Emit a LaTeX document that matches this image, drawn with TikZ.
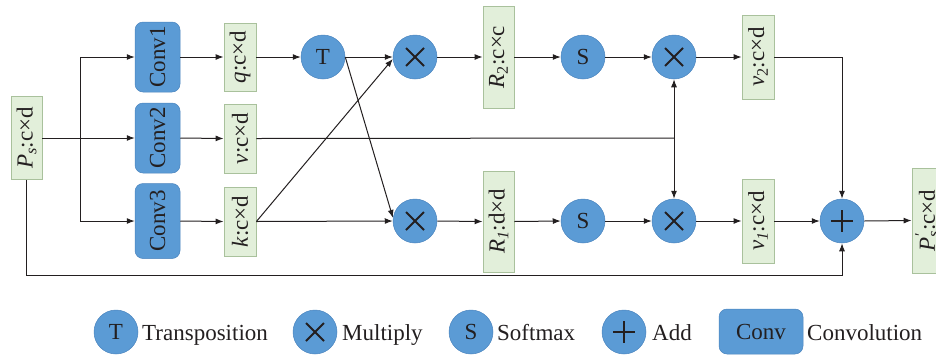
\documentclass[tikz,border=0pt]{standalone}
\usepackage{fontspec}
\setmainfont{Liberation Serif}
\usetikzlibrary{arrows.meta,calc}
\definecolor{cblue}{HTML}{5B9BD5}
\definecolor{cbluedk}{HTML}{4A84BE}
\definecolor{gfill}{HTML}{E2EFDA}
\definecolor{gline}{HTML}{A9C19C}
\definecolor{ink}{HTML}{231F20}
\begin{document}
\begin{tikzpicture}[x=1pt,y=-1pt,
 every node/.style={font=\fontsize{23}{26}\selectfont, text=ink},
 op/.style={circle, fill=cblue, draw=cbluedk, line width=0.5pt, minimum size=44pt, inner sep=0pt},
 gbox/.style={rectangle, fill=gfill, draw=gline, line width=0.8pt, inner sep=0pt},
 convbox/.style={rectangle, rounded corners=8pt, fill=cblue, draw=cbluedk, line width=0.5pt, minimum width=45pt, minimum height=70pt, inner sep=0pt},
 rlabel/.style={rotate=90, inner sep=0pt},
 legtext/.style={anchor=base west, inner sep=0pt},
 wire/.style={draw=ink, line width=1pt},
 arr/.style={wire, -{Latex[length=8pt,width=6pt]}},
 sym/.style={draw=ink, line width=1.8pt}
]
\useasboundingbox (0,0) rectangle (936,357);

% input
\node[gbox, minimum width=31pt, minimum height=83pt] (Ps) at (26.5,138) {};
\node[rlabel] (PsL) at (Ps.center) {\textit{P}\textsubscript{\textit{s}}:c×d};

% convolutions
\node[convbox] (C1) at (157.5,57) {};
\node[rlabel] (C1L) at (C1.center) {Conv1};
\node[convbox] (C2) at (157.5,138) {};
\node[rlabel] (C2L) at (C2.center) {Conv2};
\node[convbox, minimum height=75pt] (C3) at (157.5,221) {};
\node[rlabel] (C3L) at (C3.center) {Conv3};

% q v k
\node[gbox, minimum width=32pt, minimum height=68pt] (Q) at (240,57) {};
\node[rlabel] (QL) at (Q.center) {\textit{q}:c×d};
\node[gbox, minimum width=32pt, minimum height=69pt] (V) at (240,138.5) {};
\node[rlabel] (VL) at (V.center) {\textit{v}:c×d};
\node[gbox, minimum width=32pt, minimum height=69pt] (K) at (240,221.5) {};
\node[rlabel] (KL) at (K.center) {\textit{k}:c×d};

% operators
\node[op] (T) at (323,57) {T};
\node[op] (Mt) at (415,57) {};
\node[op] (Mb) at (415,221) {};
\node[gbox, minimum width=31pt, minimum height=102pt] (R2) at (498.5,57) {};
\node[rlabel] (R2L) at (R2.center) {\textit{R}\textsubscript{2}:c×c};
\node[gbox, minimum width=31pt, minimum height=101pt] (R1) at (498.5,221.5) {};
\node[rlabel] (R1L) at (R1.center) {\textit{R}\textsubscript{\textit{1}}:d×d};
\node[op] (S1) at (583,57) {S};
\node[op] (S2) at (583,221) {S};
\node[op] (M2t) at (674,57) {};
\node[op] (M2b) at (674,221) {};
\node[gbox, minimum width=32pt, minimum height=84pt] (V2) at (758,57) {};
\node[rlabel] (V2L) at (V2.center) {\textit{v}\textsubscript{2}:c×d};
\node[gbox, minimum width=32pt, minimum height=84pt] (V1) at (758,221) {};
\node[rlabel] (V1L) at (V1.center) {\textit{v}\textsubscript{\textit{1}}:c×d};
\node[op] (Add) at (842,221) {};
\node[gbox, minimum width=32pt, minimum height=105pt] (Pp) at (928,220.5) {};
\node[rlabel] (PpL) at ([xshift=-1pt]Pp.center) {\textit{P}\rlap{\textsuperscript{\textit{′}}}\textsubscript{\textit{s}}:c×d};

% helper coordinates
\coordinate (B1) at (80,57);
\coordinate (B2) at (80,138);
\coordinate (B3) at (80,221);
\coordinate (J) at (674,138);
\coordinate (Bot) at (0,275);

% wires
\draw[wire] (Ps.east) -- (B2);
\draw[wire] (B1) -- (B3);
\draw[arr] (B1) -- (C1.west);
\draw[arr] (B2) -- (C2.west);
\draw[arr] (B3) -- (C3.west);
\draw[arr] (C1.east) -- (Q.west);
\draw[arr] (C2.east) -- (V.west);
\draw[arr] (C3.east) -- (K.west);
\draw[arr] (Q.east) -- (T.west);
\draw[arr] (T.east) -- (Mt.west);
\draw[arr] (T.east) -- (Mb.172);
\draw[arr] (K.east) -- (Mt.185);
\draw[arr] (K.east) -- (Mb.west);
\draw[arr] (Mt.east) -- (R2.west);
\draw[arr] (Mb.east) -- (R1.west);
\draw[arr] (R2.east) -- (S1.west);
\draw[arr] (R1.east) -- (S2.west);
\draw[arr] (S1.east) -- (M2t.west);
\draw[arr] (S2.east) -- (M2b.west);
\draw[arr] (M2t.east) -- (V2.west);
\draw[arr] (M2b.east) -- (V1.west);
\draw[wire] (V.east) -- (J);
\draw[arr] (J) -- (M2t.south);
\draw[arr] (J) -- (M2b.north);
\draw[arr] (V2.east) -| (Add.north);
\draw[arr] (V1.east) -- (Add.west);
\draw[arr] (Add.east) -- (Pp.west);
\draw[arr] (Ps.south) -- (Ps.south |- Bot) -| (Add.south);

% legend
\node[op] (LT) at (116,332) {T};
\node[legtext] (LTt) at (142,340) {Transposition};
\node[op] (LM) at (315,332) {};
\node[legtext] (LMt) at (342,340) {Multiply};
\node[op] (LS) at (471,332) {S};
\node[legtext] (LSt) at (497,340) {Softmax};
\node[op] (LA) at (624,332) {};
\node[legtext] (LAt) at (652,340) {Add};
\node[convbox, minimum width=84pt, minimum height=45pt] (LC) at (761,331.5) {Conv};
\node[legtext] (LCt) at (807,340) {Convolution};

% symbols
\foreach \n in {Mt,Mb,M2t,M2b,LM}{
  \draw[sym] ($(\n)+(-9,-9)$) -- ($(\n)+(9,9)$) ($(\n)+(-9,9)$) -- ($(\n)+(9,-9)$);
}
\foreach \n in {Add,LA}{
  \draw[sym] ($(\n)+(-11,0)$) -- ($(\n)+(11,0)$) ($(\n)+(0,-11)$) -- ($(\n)+(0,11)$);
}
\end{tikzpicture}
\end{document}
